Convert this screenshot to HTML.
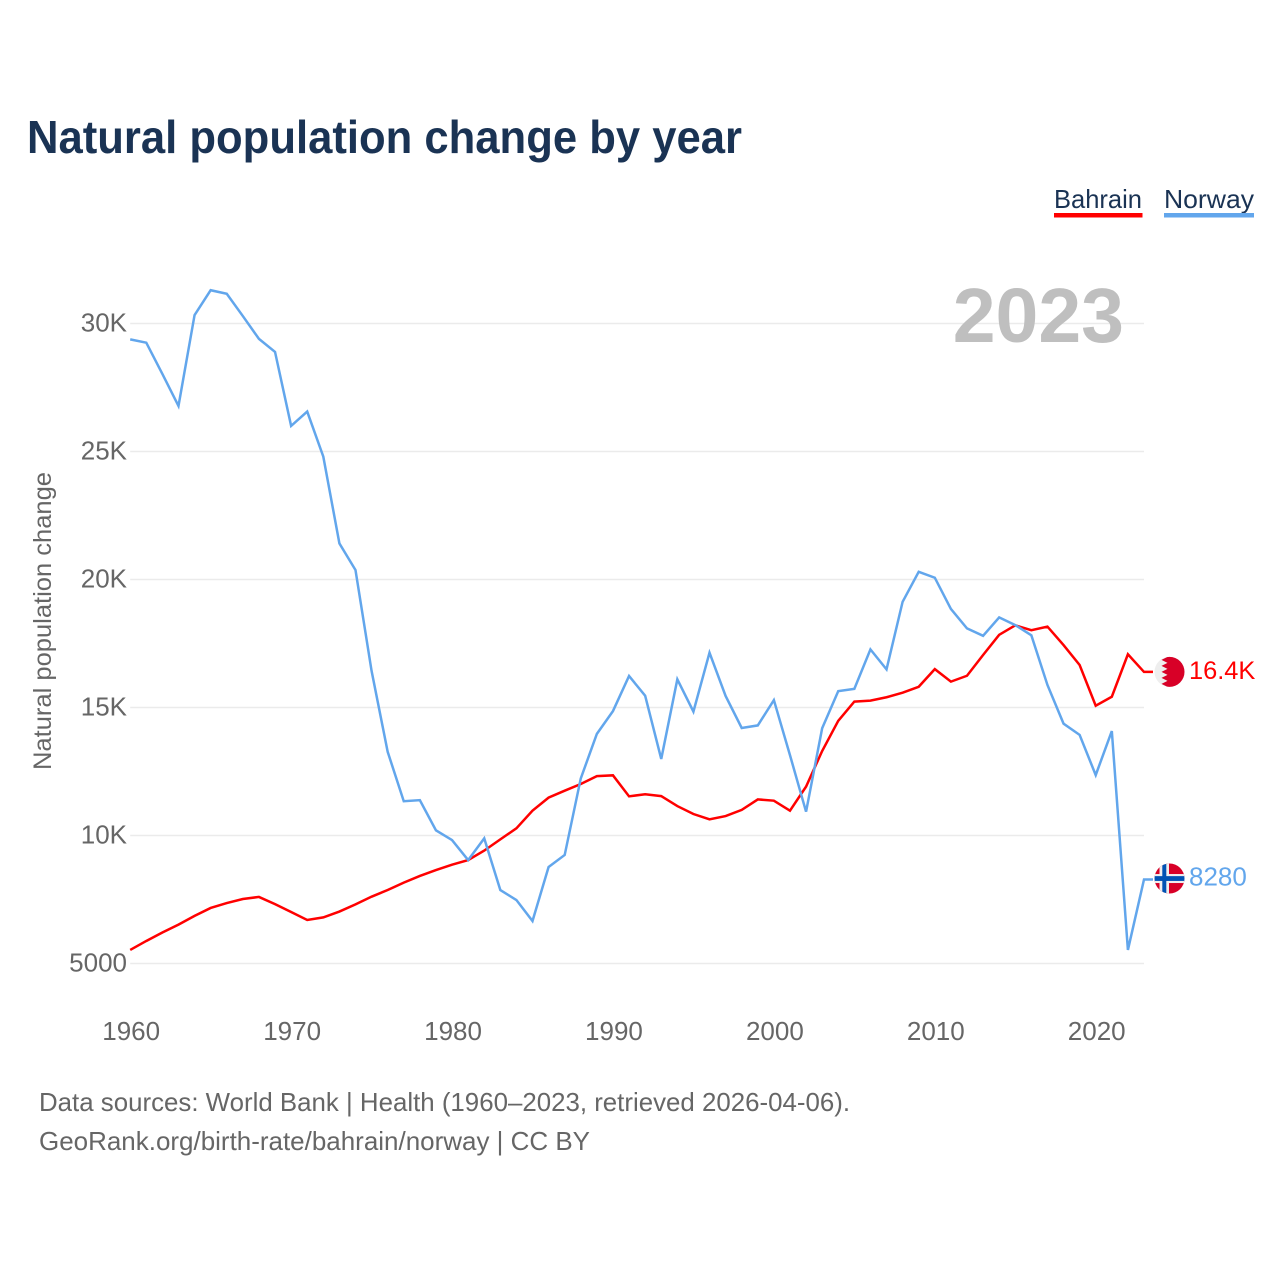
<!DOCTYPE html>
<html lang="en">
<head>
<meta charset="utf-8">
<title>Natural population change by year</title>
<style>
html,body{margin:0;padding:0;background:#fff;}
svg{display:block;font-family:"Liberation Sans",Arial,sans-serif;}
</style>
</head>
<body>
<svg id="chart" xmlns="http://www.w3.org/2000/svg" width="1280" height="1280" viewBox="0 0 1280 1280">
  <defs>
    <clipPath id="flag-clip"><circle cx="0" cy="0" r="15"></circle></clipPath>
  </defs>
  <rect width="1280" height="1280" fill="#ffffff"></rect>
  <text x="27" y="153" font-size="46" font-weight="700" fill="#1a3354" textLength="715" lengthAdjust="spacingAndGlyphs">Natural population change by year</text>

  <g>
    <g>
      <text x="1054" y="208" font-size="26" fill="#1a3354" textLength="88" lengthAdjust="spacingAndGlyphs">Bahrain</text>
      <rect x="1054" y="213" width="88.5" height="4.5" fill="#ff0000"></rect>
    </g>
    <g>
      <text x="1164" y="208" font-size="26" fill="#1a3354" textLength="90" lengthAdjust="spacingAndGlyphs">Norway</text>
      <rect x="1164" y="213" width="90" height="4.5" fill="#62a6ec"></rect>
    </g>
  </g>

  <g id="grid"></g>
  <g id="y-axis"></g>
  <g id="x-axis"></g>
  <text transform="translate(51,770) rotate(-90)" font-size="25" fill="#666666" textLength="298" lengthAdjust="spacingAndGlyphs">Natural population change</text>
  <text id="year-label" x="1124" y="342" text-anchor="end" font-size="77" font-weight="700" fill="#bfbfbf"></text>
  <g id="series"></g>

  <g id="flag-bahrain">
    <g clip-path="url(#flag-clip)">
      <rect x="-16" y="-16" width="32" height="32" fill="#eeeeee"></rect>
      <polygon fill="#d80027" points="-2,-16 -2,-15 -8,-12 -2,-9 -8,-6 -2,-3 -8,0 -2,3 -8,6 -2,9 -8,12 -2,15 -2,16 16,16 16,-16"></polygon>
    </g>
  </g>
  <g id="flag-norway">
    <g clip-path="url(#flag-clip)">
      <rect x="-16" y="-16" width="32" height="32" fill="#d80027"></rect>
      <rect x="-10" y="-16" width="9.5" height="32" fill="#eeeeee"></rect>
      <rect x="-16" y="-4.5" width="32" height="9" fill="#eeeeee"></rect>
      <rect x="-7.2" y="-16" width="4" height="32" fill="#0052b4"></rect>
      <rect x="-16" y="-2.4" width="32" height="4.8" fill="#0052b4"></rect>
    </g>
  </g>
  <text id="end-label-bahrain" x="1189" font-size="25.4" fill="#ff0000"></text>
  <text id="end-label-norway" x="1189" font-size="26" fill="#62a6ec"></text>

  <g>
    <text x="39" y="1111" font-size="26" fill="#666666" textLength="811" lengthAdjust="spacingAndGlyphs">Data sources: World Bank | Health (1960–2023, retrieved 2026-04-06).</text>
    <text x="39" y="1150" font-size="26" fill="#666666" textLength="551" lengthAdjust="spacingAndGlyphs">GeoRank.org/birth-rate/bahrain/norway | CC BY</text>
  </g>
</svg>
<script>
const firstYear = 1960;
const lastYear = 2023;
const bahrainValues = [5530,5880,6210,6520,6860,7170,7360,7520,7600,7320,7010,6700,6800,7030,7310,7610,7870,8160,8420,8650,8860,9040,9410,9850,10280,10970,11480,11750,12010,12320,12350,11530,11610,11540,11150,10840,10630,10760,11000,11410,11360,10970,11910,13300,14480,15230,15270,15400,15580,15810,16500,16010,16240,17050,17840,18210,18020,18160,17440,16660,15070,15420,17080,16390];
const norwayValues = [29380,29250,28030,26780,30330,31300,31160,30290,29400,28890,26000,26560,24800,21410,20370,16430,13270,11340,11380,10200,9820,9040,9890,7870,7480,6660,8770,9240,12230,13970,14860,16230,15460,12990,16100,14840,17140,15450,14200,14300,15290,13140,10930,14190,15640,15730,17270,16490,19130,20300,20070,18850,18090,17800,18520,18220,17820,15880,14370,13930,12360,14080,5530,8280];
const yTickValues = [5000,10000,15000,20000,25000,30000];
const yTickLabels = ["5000","10K","15K","20K","25K","30K"];
const xTickValues = [1960,1970,1980,1990,2000,2010,2020];
const xTickLabels = ["1960","1970","1980","1990","2000","2010","2020"];
const bahrainEndLabel = "16.4K";
const norwayEndLabel = "8280";
const currentYear = "2023";

const NS = "http://www.w3.org/2000/svg";
function xScale(year){ return 130.2 + (year - firstYear) * (1144 - 130.2) / (lastYear - firstYear); }
function yScale(v){ return 963.5 - (v - 5000) * 0.0256; }
function make(tag, attrs, parent){
  const el = document.createElementNS(NS, tag);
  for (const k in attrs) el.setAttribute(k, attrs[k]);
  parent.appendChild(el);
  return el;
}

const grid = document.getElementById("grid");
const yAxis = document.getElementById("y-axis");
const xAxis = document.getElementById("x-axis");
const seriesGroup = document.getElementById("series");

yTickValues.forEach(function(v, i){
  const line = make("line", {x1: xScale(firstYear), x2: xScale(lastYear), y1: yScale(v), y2: yScale(v), stroke: "#ebebeb", "stroke-width": 1.5}, grid);
  
  
  const t = make("text", {x: 127, y: yScale(v) + 8, "text-anchor": "end", "font-size": 26, fill: "#666666"}, yAxis);
  t.textContent = yTickLabels[i];
  
  
});

xTickValues.forEach(function(year, i){
  const t = make("text", {x: xScale(year) + 1, y: 1040, "text-anchor": "middle", "font-size": 26, fill: "#666666"}, xAxis);
  t.textContent = xTickLabels[i];
  
  
});

function drawSeries(values, color, name){
  const pts = values.map(function(v, i){ return xScale(firstYear + i).toFixed(2) + "," + yScale(v).toFixed(2); });
  const endY = yScale(values[values.length - 1]).toFixed(2);
  pts.push("1153," + endY);
  const line = make("polyline", {points: pts.join(" "), fill: "none", stroke: color, "stroke-width": 2.5, "stroke-linejoin": "miter"}, seriesGroup);
  
  
}
drawSeries(bahrainValues, "#ff0000", "bahrain-line");
drawSeries(norwayValues, "#62a6ec", "norway-line");

const bahrainEndY = yScale(bahrainValues[bahrainValues.length - 1]);
const norwayEndY = yScale(norwayValues[norwayValues.length - 1]);
document.getElementById("flag-bahrain").setAttribute("transform", "translate(1169.5," + bahrainEndY + ")");
document.getElementById("flag-norway").setAttribute("transform", "translate(1169.5," + (norwayEndY - 1) + ")");
const bl = document.getElementById("end-label-bahrain");
bl.setAttribute("y", bahrainEndY + 7);
bl.textContent = bahrainEndLabel;
const nl = document.getElementById("end-label-norway");
nl.setAttribute("y", norwayEndY + 6);
nl.textContent = norwayEndLabel;
document.getElementById("year-label").textContent = currentYear;
</script>
</body>
</html>
